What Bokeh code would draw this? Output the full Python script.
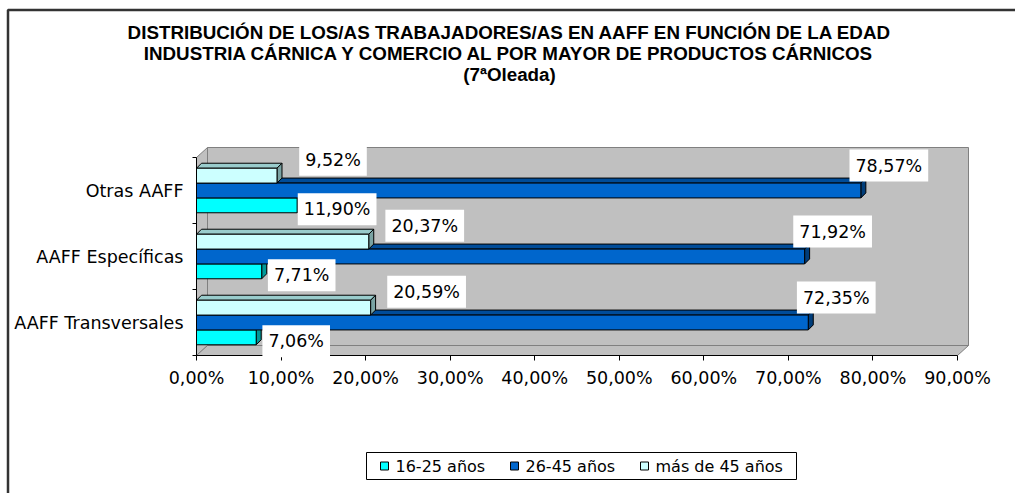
from bokeh.plotting import figure
from bokeh.models import Range1d, FixedTicker, ColumnDataSource
from bokeh.core.properties import value
from bokeh.embed import file_html
from bokeh.resources import INLINE

# ---------------- data ----------------
categories = ["AAFF Transversales", "AAFF Específicas", "Otras AAFF"]
series_names = ["16-25 años", "26-45 años", "más de 45 años"]
v_16_25 = [7.06, 7.71, 11.90]
v_26_45 = [72.35, 71.92, 78.57]
v_mas_45 = [20.59, 20.37, 9.52]
x_ticks = [0, 10, 20, 30, 40, 50, 60, 70, 80, 90]
x_tick_labels = ["0,00%", "10,00%", "20,00%", "30,00%", "40,00%",
                 "50,00%", "60,00%", "70,00%", "80,00%", "90,00%"]
title_lines = ["DISTRIBUCIÓN DE LOS/AS TRABAJADORES/AS EN AAFF EN FUNCIÓN DE LA EDAD",
               "INDUSTRIA CÁRNICA Y COMERCIO AL POR MAYOR DE PRODUCTOS CÁRNICOS",
               "(7ªOleada)"]

def fmt(v):
    return ("%.2f%%" % v).replace(".", ",")

# ---------------- geometry ----------------
OFF = 0                                      # page offset of the figure
W, H = 1015, 493
FL, FR, FT, FB = 196, 980, 135, 355          # frame edges in figure pixels
PX_X = 761.0 / 90.0                          # pixels per percent
PX_Y = 66.0                                  # pixels per category band
Y0 = -0.5
x_end = (FR - FL) / PX_X
y_end = Y0 + (FB - FT) / PX_Y

def px2x(page_x):
    return (page_x - OFF - FL) / PX_X

def px2y(page_y):
    return Y0 + (OFF + FB - page_y) / PX_Y

p = figure(width=W, height=H, x_range=Range1d(0, x_end), y_range=Range1d(Y0, y_end),
           output_backend="svg", toolbar_location=None,
           min_border_left=FL, min_border_right=W - FR,
           min_border_top=FT, min_border_bottom=H - FB)
p.outline_line_color = None
p.xgrid.visible = False
p.ygrid.visible = False
p.background_fill_color = "white"
p.border_fill_color = "white"

# ---------------- 3D walls ----------------
wdx = 11 / PX_X
wdy = 10 / PX_Y
xa, xb = x_ticks[0], x_ticks[-1]
ya, yb = -0.5, len(categories) - 0.5
WALL = "#C0C0C0"
WLINE = "#808080"
p.quad(left=xa + wdx, right=xb + wdx, bottom=ya + wdy, top=yb + wdy,
       fill_color=WALL, line_color=WLINE, line_width=1)
p.patch([xa, xa, xa + wdx, xa + wdx], [ya, yb, yb + wdy, ya + wdy],
        fill_color=WALL, line_color=WLINE, line_width=1)
p.patch([xa, xb, xb + wdx, xa + wdx], [ya, ya, ya + wdy, ya + wdy],
        fill_color=WALL, line_color=WLINE, line_width=1)

# ---------------- bars ----------------
h = 0.225
bdx = 5 / PX_X
bdy = 5 / PX_Y
series = [
    # values, offset, front, top, side, label dx px, label dy px
    (v_16_25, -h, "#00FFFF", "#00CCCC", "#009999", 40, -4),
    (v_26_45, 0.0, "#0066CC", "#004C99", "#003D7A", 28, 25),
    (v_mas_45, h, "#CCFFFF", "#99CCCC", "#7AA3A3", 56, 16),
]
for vals, off, cf, ct, cs, ldx, ldy in series:
    ys = [i + off for i in range(len(categories))]
    xs_top, ys_top, xs_side, ys_side = [], [], [], []
    for v, y in zip(vals, ys):
        t, b = y + h / 2, y - h / 2
        xs_top.append([0, v, v + bdx, bdx])
        ys_top.append([t, t, t + bdy, t + bdy])
        xs_side.append([v, v, v + bdx, v + bdx])
        ys_side.append([b, t, t + bdy, b + bdy])
    p.patches(xs_top, ys_top, fill_color=ct, line_color="black", line_width=1)
    p.patches(xs_side, ys_side, fill_color=cs, line_color="black", line_width=1)
    p.hbar(y=ys, left=0, right=vals, height=h, fill_color=cf,
           line_color="black", line_width=1)

# ---------------- data labels ----------------
for vals, off, cf, ct, cs, ldx, ldy in series:
    src = ColumnDataSource(dict(
        x=[v + ldx / PX_X for v in vals],
        y=[i + off + ldy / PX_Y for i in range(len(categories))],
        t=[fmt(v) for v in vals]))
    tr = p.text(x="x", y="y", text="t", source=src,
                text_align="center", text_baseline="middle",
                text_font=value("DejaVu Sans"), text_font_size="17.5px",
                text_color="black", background_fill_color="white",
                padding=6)
    tr.level = "overlay"

# ---------------- axes ----------------
xax = p.xaxis[0]
xax.ticker = FixedTicker(ticks=x_ticks, minor_ticks=[])
xax.major_label_overrides = {t: l for t, l in zip(x_ticks, x_tick_labels)}
xax.bounds = (xa, xb)
xax.major_tick_out = 5
xax.major_tick_in = 0
xax.minor_tick_out = 0
xax.minor_tick_in = 0
xax.axis_line_color = "black"
xax.major_tick_line_color = "black"
xax.major_label_text_font = "DejaVu Sans"
xax.major_label_text_font_size = "17.5px"
xax.major_label_text_color = "black"
xax.major_label_standoff = 7

yax = p.yaxis[0]
yax.ticker = FixedTicker(ticks=list(range(len(categories))),
                         minor_ticks=[i - 0.5 for i in range(len(categories) + 1)])
yax.major_label_overrides = {i: c for i, c in enumerate(categories)}
yax.bounds = (ya, yb)
yax.major_tick_out = 0
yax.major_tick_in = 0
yax.minor_tick_out = 4
yax.minor_tick_in = 0
yax.minor_tick_line_color = "black"
yax.axis_line_color = "black"
yax.major_label_text_font = "DejaVu Sans"
yax.major_label_text_font_size = "17.5px"
yax.major_label_text_color = "black"
yax.major_label_standoff = 9

# ---------------- title ----------------
tsrc = ColumnDataSource(dict(
    x=[px2x(509)] * len(title_lines),
    y=[px2y(32 + 21 * k) for k in range(len(title_lines))],
    t=title_lines))
tt = p.text(x="x", y="y", text="t", source=tsrc, text_align="center",
            text_baseline="middle", text_font=value("Liberation Sans"),
            text_font_style="bold", text_font_size="18.8px", text_color="black")
tt.level = "overlay"

# ---------------- outer border ----------------
bl = p.line([px2x(7.5), px2x(7.5), px2x(1100)], [px2y(600), px2y(9.5), px2y(9.5)],
            line_color="#333333", line_width=2.5)
bl.level = "overlay"

# ---------------- legend (drawn by hand below the chart) ----------------
leg_colors = [s[2] for s in series]
leg_box = p.quad(left=px2x(366), right=px2x(796), top=px2y(452), bottom=px2y(479),
                 fill_color="white", line_color="black", line_width=1)
leg_box.level = "overlay"
leg_x = [384, 514, 644]
lsrc = ColumnDataSource(dict(
    x=[px2x(lx) for lx in leg_x],
    tx=[px2x(lx + 11) for lx in leg_x],
    y=[px2y(465.5)] * len(series_names),
    c=leg_colors, t=series_names))
lm = p.rect(x="x", y="y", width=8, height=8, width_units="screen",
            height_units="screen", fill_color="c", line_color="black",
            line_width=1, source=lsrc)
lm.level = "overlay"
lt = p.text(x="tx", y="y", text="t", source=lsrc, text_align="left",
            text_baseline="middle", text_font=value("DejaVu Sans"),
            text_font_size="16px", text_color="black")
lt.level = "overlay"

open("out.html", "w").write(file_html(p, INLINE))
